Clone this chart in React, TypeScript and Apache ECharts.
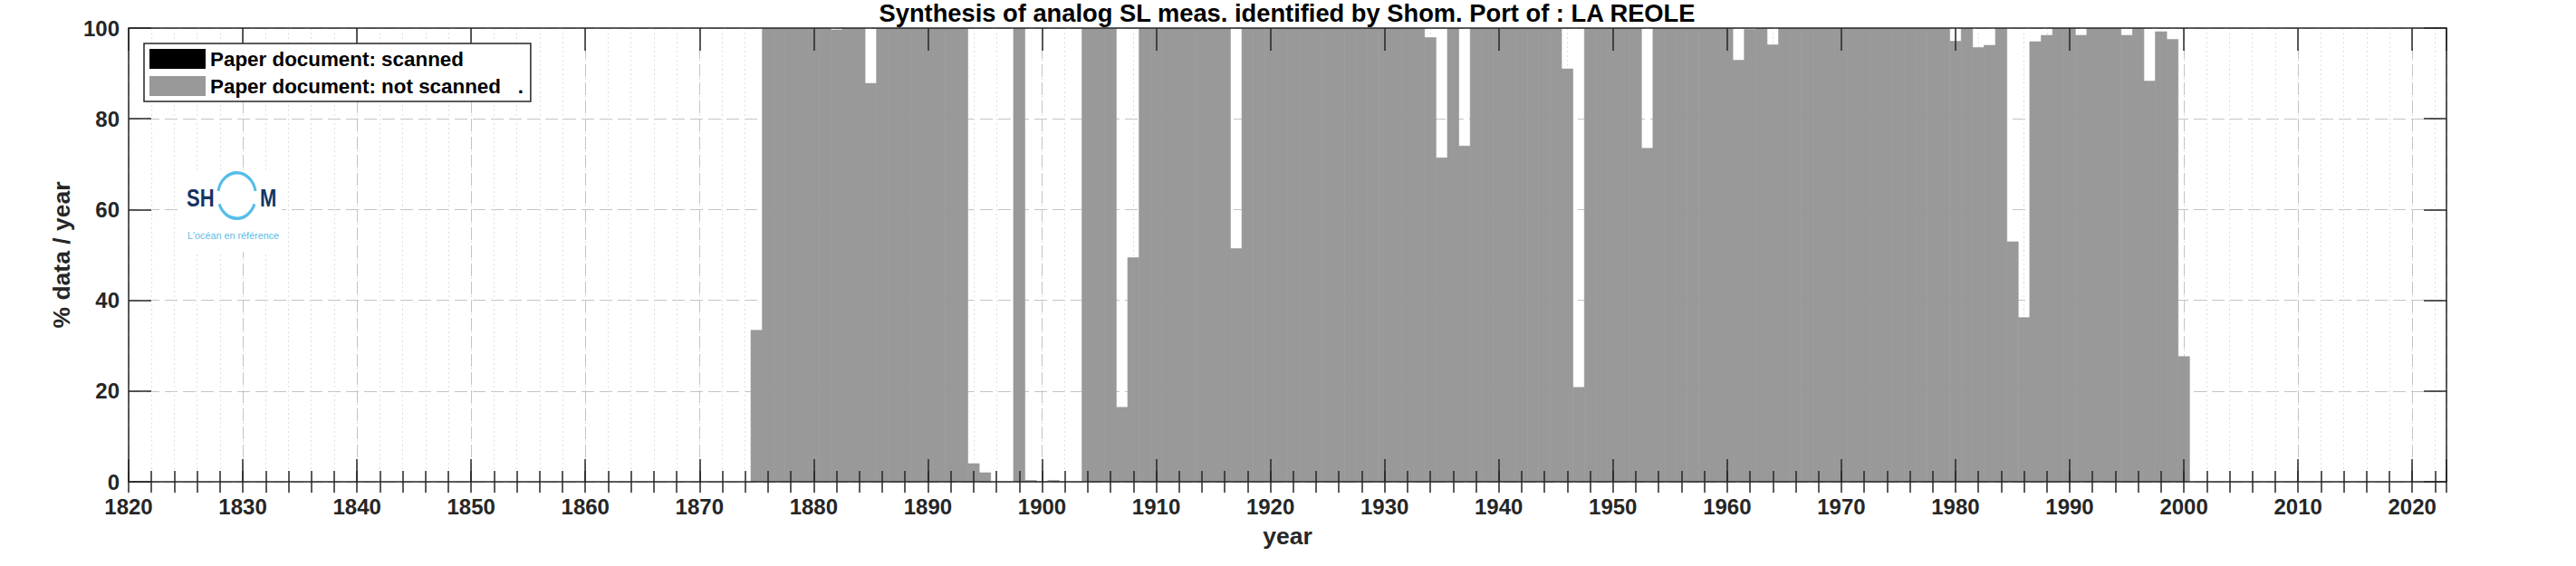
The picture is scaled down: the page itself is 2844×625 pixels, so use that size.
import React, { useEffect, useRef } from 'react';
import * as echarts from 'echarts';

const FONT = '"Liberation Sans", Arial, Helvetica, sans-serif';

const titleText = 'Synthesis of analog SL meas. identified by Shom. Port of : LA REOLE';
const xAxisTitle = 'year';
const yAxisTitle = '% data / year';
const legendScanned = 'Paper document: scanned';
const legendNotScanned = 'Paper document: not scanned\u00a0\u00a0\u00a0.';

const years = [
  1875, 1876, 1877, 1878, 1879,
  1880, 1881, 1882, 1883, 1884, 1885, 1886, 1887, 1888, 1889,
  1890, 1891, 1892, 1893, 1894, 1895, 1896, 1897, 1898, 1899,
  1900, 1901, 1902, 1903, 1904, 1905, 1906, 1907, 1908, 1909,
  1910, 1911, 1912, 1913, 1914, 1915, 1916, 1917, 1918, 1919,
  1920, 1921, 1922, 1923, 1924, 1925, 1926, 1927, 1928, 1929,
  1930, 1931, 1932, 1933, 1934, 1935, 1936, 1937, 1938, 1939,
  1940, 1941, 1942, 1943, 1944, 1945, 1946, 1947, 1948, 1949,
  1950, 1951, 1952, 1953, 1954, 1955, 1956, 1957, 1958, 1959,
  1960, 1961, 1962, 1963, 1964, 1965, 1966, 1967, 1968, 1969,
  1970, 1971, 1972, 1973, 1974, 1975, 1976, 1977, 1978, 1979,
  1980, 1981, 1982, 1983, 1984, 1985, 1986, 1987, 1988, 1989,
  1990, 1991, 1992, 1993, 1994, 1995, 1996, 1997, 1998, 1999,
  2000,
];

// % of data per year, paper documents not scanned
const notScannedPct = [
  33.4, 100, 100, 100, 100,
  100, 100, 99.6, 100, 100, 87.8, 100, 100, 100, 100,
  100, 100, 100, 100, 4.0, 2.0, 0, 0, 100, 0.3,
  0, 0.3, 0, 0, 100, 100, 100, 16.4, 49.4, 100,
  100, 100, 100, 100, 100, 100, 100, 51.4, 100, 100,
  100, 100, 100, 100, 100, 100, 100, 100, 100, 100,
  100, 100, 100, 100, 97.9, 71.4, 100, 74.0, 100, 100,
  100, 100, 100, 100, 100, 100, 91.0, 20.8, 100, 100,
  100, 100, 100, 73.5, 100, 100, 100, 100, 100, 100,
  100, 92.9, 99.7, 100, 96.3, 100, 100, 100, 100, 100,
  100, 100, 100, 100, 100, 100, 100, 100, 100, 100,
  97.1, 100, 95.7, 96.2, 100, 52.9, 36.2, 97.0, 98.4, 100,
  100, 98.4, 100, 100, 100, 98.4, 100, 88.3, 99.2, 97.5,
  27.6,
];

// % of data per year, paper documents scanned (none)
const scannedYears: number[] = [];
const scannedPct: number[] = [];

const xTickLabels = [1820, 1830, 1840, 1850, 1860, 1870, 1880, 1890, 1900, 1910, 1920, 1930, 1940, 1950, 1960, 1970, 1980, 1990, 2000, 2010, 2020];
const yTickLabels = [0, 20, 40, 60, 80, 100];

const X_MIN = 1820;
const X_MAX = 2023;

const AXIS_COLOR = '#262626';
const BAR_GRAY = '#999999';

function barRender(color: string) {
  return (params: any, api: any) => {
    const x = api.value(0) as number;
    const v = api.value(1) as number;
    if (!v) return { type: 'group', children: [] };
    const p0 = api.coord([x - 0.5, v]);
    const p1 = api.coord([x + 0.5, 0]);
    return {
      type: 'rect',
      shape: { x: p0[0], y: p0[1], width: p1[0] - p0[0], height: p1[1] - p0[1] },
      style: { fill: color, stroke: color, lineWidth: 0.6 },
    };
  };
}

export default function App() {
  const ref = useRef<HTMLDivElement>(null);

  useEffect(() => {
    document.body.style.margin = '0';
    if (!ref.current) return;
    const chart = echarts.init(ref.current, undefined, { renderer: 'svg' });

    const hidden = { show: false };
    const baseX = { type: 'value', min: X_MIN, max: X_MAX, gridIndex: 0 };
    const baseY = { type: 'value', min: 0, max: 100, interval: 20, gridIndex: 0 };

    const option: any = {
      animation: false,
      backgroundColor: '#ffffff',
      textStyle: { fontFamily: FONT },
      grid: {
        left: 142,
        top: 31,
        width: 2559,
        height: 501,
        containLabel: false,
        outerBoundsMode: 'none',
      },
      legend: {
        orient: 'vertical',
        left: 159,
        top: 48,
        z: 10,
        selectedMode: false,
        backgroundColor: '#ffffff',
        borderColor: AXIS_COLOR,
        borderWidth: 1.5,
        borderRadius: 0,
        padding: [6, 8, 6, 6],
        itemWidth: 62,
        itemHeight: 22,
        itemGap: 8,
        textStyle: { fontSize: 22.4, fontWeight: 'bold', color: '#000000', fontFamily: FONT },
        data: [
          { name: legendScanned, icon: 'rect' },
          { name: legendNotScanned, icon: 'rect' },
        ],
      },
      xAxis: [
        // 0: bottom, major ticks + labels + frame
        {
          ...baseX,
          position: 'bottom',
          interval: 10,
          z: 5,
          name: xAxisTitle,
          nameLocation: 'middle',
          nameGap: 46,
          nameTextStyle: { fontSize: 26.5, fontWeight: 'bold', color: AXIS_COLOR, fontFamily: FONT },
          axisLine: { show: true, onZero: false, lineStyle: { color: AXIS_COLOR, width: 1.5 } },
          axisTick: { show: true, inside: true, length: 25, lineStyle: { color: AXIS_COLOR, width: 1.5 } },
          axisLabel: {
            show: true,
            margin: 15,
            fontSize: 24,
            fontWeight: 'bold',
            color: AXIS_COLOR,
            fontFamily: FONT,
            formatter: (v: number) => (xTickLabels.includes(v) ? String(v) : ''),
          },
          splitLine: hidden,
        },
        // 1: bottom minor ticks
        {
          ...baseX,
          position: 'bottom',
          interval: 2,
          z: 5,
          axisLine: hidden,
          axisTick: { show: true, inside: true, length: 12, lineStyle: { color: AXIS_COLOR, width: 1.5 } },
          axisLabel: hidden,
          splitLine: hidden,
        },
        // 2: top major ticks + frame
        {
          ...baseX,
          position: 'top',
          interval: 10,
          z: 5,
          axisLine: { show: true, onZero: false, lineStyle: { color: AXIS_COLOR, width: 1.5 } },
          axisTick: { show: true, inside: true, length: 25, lineStyle: { color: AXIS_COLOR, width: 1.5 } },
          axisLabel: hidden,
          splitLine: hidden,
        },
        // 3: top minor ticks
        {
          ...baseX,
          position: 'top',
          interval: 2,
          z: 5,
          axisLine: hidden,
          axisTick: { show: true, inside: true, length: 12, lineStyle: { color: AXIS_COLOR, width: 1.5 } },
          axisLabel: hidden,
          splitLine: hidden,
        },
        // 4: minor grid (dotted)
        {
          ...baseX,
          position: 'bottom',
          interval: 2,
          z: 0,
          axisLine: hidden,
          axisTick: hidden,
          axisLabel: hidden,
          splitLine: { show: true, lineStyle: { color: '#e0e0e0', width: 1, type: [2, 3] } },
        },
        // 5: major grid (dashed)
        {
          ...baseX,
          position: 'bottom',
          interval: 10,
          z: 0,
          axisLine: hidden,
          axisTick: hidden,
          axisLabel: hidden,
          splitLine: { show: true, lineStyle: { color: '#c4c4c4', width: 1, type: [14, 6] } },
        },
      ],
      yAxis: [
        {
          ...baseY,
          position: 'left',
          z: 5,
          name: yAxisTitle,
          nameLocation: 'middle',
          nameGap: 59,
          nameTextStyle: { fontSize: 26.5, fontWeight: 'bold', color: AXIS_COLOR, fontFamily: FONT },
          axisLine: { show: true, onZero: false, lineStyle: { color: AXIS_COLOR, width: 1.5 } },
          axisTick: { show: true, inside: true, length: 25, lineStyle: { color: AXIS_COLOR, width: 1.5 } },
          axisLabel: {
            show: true,
            margin: 10,
            fontSize: 24,
            fontWeight: 'bold',
            color: AXIS_COLOR,
            fontFamily: FONT,
            formatter: (v: number) => (yTickLabels.includes(v) ? String(v) : ''),
          },
          splitLine: hidden,
        },
        {
          ...baseY,
          position: 'right',
          z: 5,
          axisLine: { show: true, onZero: false, lineStyle: { color: AXIS_COLOR, width: 1.5 } },
          axisTick: { show: true, inside: true, length: 25, lineStyle: { color: AXIS_COLOR, width: 1.5 } },
          axisLabel: hidden,
          splitLine: hidden,
        },
        {
          ...baseY,
          position: 'left',
          z: 0,
          axisLine: hidden,
          axisTick: hidden,
          axisLabel: hidden,
          splitLine: { show: true, lineStyle: { color: '#c4c4c4', width: 1, type: [14, 6] } },
        },
      ],
      series: [
        {
          name: legendScanned,
          type: 'custom',
          xAxisIndex: 0,
          yAxisIndex: 0,
          z: 2,
          clip: true,
          itemStyle: { color: '#000000' },
          renderItem: barRender('#000000'),
          encode: { x: 0, y: 1 },
          data: scannedYears.map((y, i) => [y, scannedPct[i]]),
        },
        {
          name: legendNotScanned,
          type: 'custom',
          xAxisIndex: 0,
          yAxisIndex: 0,
          z: 2,
          clip: true,
          itemStyle: { color: BAR_GRAY },
          renderItem: barRender(BAR_GRAY),
          encode: { x: 0, y: 1 },
          data: years.map((y, i) => [y, notScannedPct[i]]),
        },
      ],
      graphic: [
        {
          type: 'text',
          x: 1421,
          y: 14,
          z: 10,
          style: {
            text: titleText,
            align: 'center',
            verticalAlign: 'middle',
            fontSize: 27.3,
            fontWeight: 'bold',
            fontFamily: FONT,
            fill: '#000000',
          },
        },
        // SHOM logo
        {
          type: 'rect',
          z: 6,
          shape: { x: 200, y: 190, width: 111, height: 88 },
          style: { fill: '#ffffff' },
        },
        {
          type: 'text',
          x: 206,
          y: 218,
          scaleY: 1.25,
          z: 7,
          style: {
            text: 'SH',
            align: 'left',
            verticalAlign: 'middle',
            fontSize: 22,
            fontWeight: 'bold',
            fontFamily: FONT,
            fill: '#17335f',
          },
        },
        {
          type: 'text',
          x: 287,
          y: 218,
          scaleY: 1.25,
          z: 7,
          style: {
            text: 'M',
            align: 'left',
            verticalAlign: 'middle',
            fontSize: 22,
            fontWeight: 'bold',
            fontFamily: FONT,
            fill: '#17335f',
          },
        },
        {
          type: 'arc',
          x: 261.5,
          y: 216,
          scaleY: 1.2,
          z: 7,
          shape: { cx: 0, cy: 0, r: 21, startAngle: (-168 * Math.PI) / 180, endAngle: (-12 * Math.PI) / 180, clockwise: true },
          style: { stroke: '#55bde8', lineWidth: 3, fill: null },
        },
        {
          type: 'arc',
          x: 261.5,
          y: 216,
          scaleY: 1.2,
          z: 7,
          shape: { cx: 0, cy: 0, r: 21, startAngle: (22 * Math.PI) / 180, endAngle: (158 * Math.PI) / 180, clockwise: true },
          style: { stroke: '#55bde8', lineWidth: 3, fill: null },
        },
        {
          type: 'text',
          x: 207,
          y: 259.5,
          z: 7,
          style: {
            text: "L'océan en référence",
            align: 'left',
            verticalAlign: 'middle',
            fontSize: 10.8,
            fontFamily: FONT,
            fill: '#5bbde8',
          },
        },
      ],
    };

    chart.setOption(option);
    return () => {
      chart.dispose();
    };
  }, []);

  return (
    <div
      ref={ref}
      style={{ position: 'fixed', left: 0, top: 0, width: 2844, height: 625, background: '#ffffff' }}
    />
  );
}
